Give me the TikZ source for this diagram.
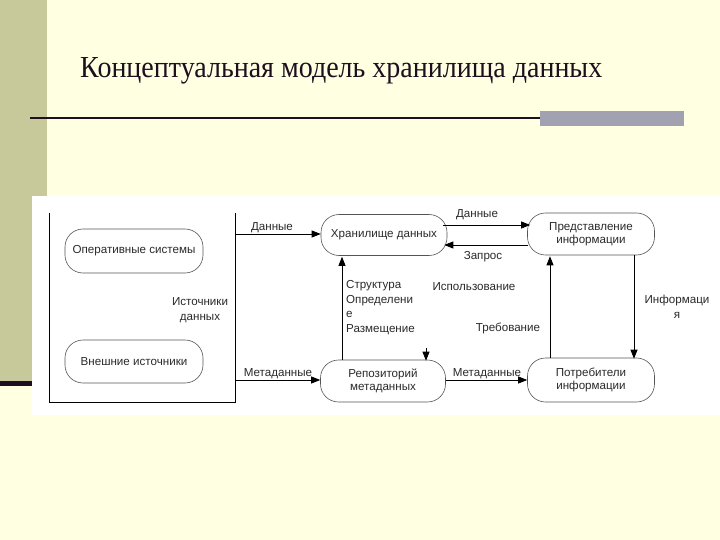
\documentclass[tikz,border=0pt]{standalone}
\usepackage{fontspec}
\setmainfont{Liberation Serif}
\newfontfamily\diagfont{Liberation Sans}
\usetikzlibrary{arrows.meta,calc}
\definecolor{bgyellow}{HTML}{FFFFE2}
\definecolor{olive}{HTML}{C8C99A}
\definecolor{darkline}{HTML}{1E0F1E}
\definecolor{graybar}{HTML}{A2A1B2}
\definecolor{txt}{HTML}{2A2A2A}
\definecolor{boxline}{HTML}{555555}
\tikzset{
  rbox/.style={rectangle, rounded corners=18pt, draw=boxline, line width=0.6pt,
    align=center, font=\diagfont\fontsize{11.6}{13.5}\selectfont, text=txt,
    minimum width=126pt, minimum height=42pt, inner sep=1pt},
  lbl/.style={font=\diagfont\fontsize{11.6}{15}\selectfont, text=txt, inner sep=0pt},
  arr/.style={line width=0.7pt, draw=black, -{Triangle[length=9pt,width=7pt]}},
  plain/.style={line width=0.7pt, draw=black}
}
\begin{document}
\begin{tikzpicture}[x=1pt,y=-1pt]
\useasboundingbox (0,0) rectangle (720,540);
% slide background
\fill[bgyellow] (0,0) rectangle (720,540);
\fill[olive] (0,0) rectangle (47,383);
\fill[darkline] (0,381) rectangle (40,386);
\fill[graybar] (540,111) rectangle (684,126);
\fill[darkline] (30,116.8) rectangle (540,119.4);
\node[anchor=base west, inner sep=0pt, text=darkline] (title) at (80,78)
  {\resizebox{522pt}{20pt}{Концептуальная модель хранилища данных}};
% white diagram area
\fill[white] (32,196) rectangle (720,415);
% sources box (open top)
\coordinate (srcTL) at (49,213);
\coordinate (srcBL) at (49,402);
\coordinate (srcBR) at (235,402);
\coordinate (srcTR) at (235,213);
\draw[plain] (srcTL) -- (srcBL) -- (srcBR) -- (srcTR);
\node[rbox, minimum width=138pt, minimum height=44pt] (ops) at (134,251) {Оперативные системы};
\node[rbox, minimum width=138pt, minimum height=43pt] (ext) at (134,361.5) {Внешние источники};
\node[lbl, align=center] (srclbl) at (200,310) {Источники\\данных};
% main nodes
\node[rbox, minimum height=41pt] (store) at (384,235) {Хранилище данных};
\node[rbox, minimum width=127pt] (pres) at (591,234) {Представление\\информации};
\node[rbox, minimum width=125pt] (repo) at (383,381) {Репозиторий\\метаданных};
\node[rbox, minimum width=127pt, minimum height=44pt] (cons) at (591,380) {Потребители\\информации};
% incoming data
\coordinate (dataIn) at (235,234);
\draw[arr] (dataIn) -- (store.west |- dataIn);
\node[lbl] (l1) at (272,228) {Данные};
\coordinate (metaIn) at (235,380);
\draw[arr] (metaIn) -- (repo.west |- metaIn);
\node[lbl] (l2) at (278,374) {Метаданные};
% store <-> presentation
\draw[arr] ([xshift=-4pt,yshift=10pt]store.east) -- ([xshift=3pt,yshift=9pt]pres.west);
\node[lbl] (l3) at (477,215) {Данные};
\draw[arr] ([xshift=1pt,yshift=-11pt]pres.west) -- ([xshift=-3pt,yshift=-10pt]store.east);
\node[lbl] (l4) at (483,257) {Запрос};
% presentation -> consumers
\draw[arr] (pres.south -| 634,0) -- ([yshift=-1pt]cons.north -| 634,0);
\node[lbl, align=center] (l5) at (677,307) {Информаци\\я};
% consumers -> presentation
\draw[arr] (cons.north -| 550,0) -- ([yshift=-1pt]pres.south -| 550,0);
\node[lbl] (l6) at (508,328) {Требование};
% repository -> store
\draw[arr] (repo.north -| 342,0) -- ([yshift=-1pt]store.south -| 342,0);
\node[lbl, align=left, anchor=north west, font=\diagfont\fontsize{11.6}{14.7}\selectfont] (l7) at (346,280) {Структура\\Определени\\е\\Размещение};
% usage (only arrowhead visible)
\coordinate (useTop) at (426,348);
\draw[arr] (useTop) -- ([yshift=-1pt]repo.north -| 426,0);
\node[lbl] (l8) at (474,287) {Использование};
% repository -> consumers
\draw[arr] (repo.east |- 0,380) -- (cons.west |- 0,380);
\node[lbl] (l9) at (487,374) {Метаданные};
\end{tikzpicture}
\end{document}
